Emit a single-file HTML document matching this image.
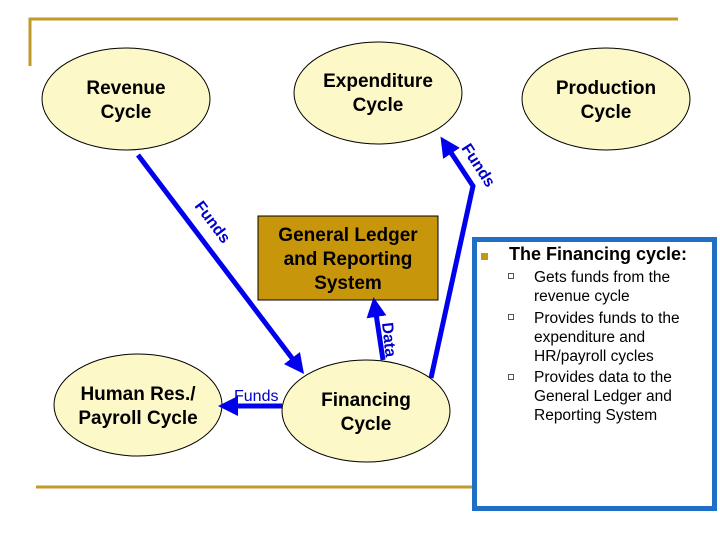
<!DOCTYPE html>
<html><head><style>
body{margin:0;width:720px;height:540px;background:#fff;overflow:hidden;font-family:"Liberation Sans",sans-serif}
</style></head><body>
<svg width="720" height="540" viewBox="0 0 720 540" xmlns="http://www.w3.org/2000/svg" font-family="Liberation Sans, sans-serif">
<defs>
<marker id="ah" markerWidth="4" markerHeight="4" refX="2" refY="2" orient="auto" markerUnits="strokeWidth">
<path d="M0,0 L4,2 L0,4 z" fill="#0000ee"/></marker>
</defs>
<path d="M30,66 V19 H678" fill="none" stroke="#c09a2a" stroke-width="3"/>
<line x1="36" y1="487" x2="472" y2="487" stroke="#c09a2a" stroke-width="3"/>
<g fill="#fdf8c8" stroke="#000" stroke-width="1">
<ellipse cx="126" cy="99" rx="84" ry="51"/>
<ellipse cx="378" cy="93" rx="84" ry="51"/>
<ellipse cx="606" cy="99" rx="84" ry="51"/>
<ellipse cx="366" cy="411" rx="84" ry="51"/>
<ellipse cx="138" cy="405" rx="84" ry="51"/>
</g>
<rect x="258" y="216" width="180" height="84" fill="#c8960a" stroke="#000"/>
<rect x="474.5" y="239.5" width="240" height="269" fill="#fff" stroke="#1f6fc6" stroke-width="5"/>
<g stroke="#0000ee" stroke-width="5" fill="none">
<line x1="138" y1="155" x2="298" y2="366" marker-end="url(#ah)"/>
<polyline points="431,378 473,186 446,145" marker-end="url(#ah)"/>
<line x1="383" y1="360" x2="375" y2="307" marker-end="url(#ah)"/>
<line x1="282" y1="406" x2="228" y2="406" marker-end="url(#ah)"/>
</g>
<g font-weight="bold" font-size="19" text-anchor="middle" fill="#000">
<text x="126" y="94">Revenue</text><text x="126" y="118">Cycle</text>
<text x="378" y="87">Expenditure</text><text x="378" y="111">Cycle</text>
<text x="606" y="94">Production</text><text x="606" y="118">Cycle</text>
<text x="366" y="406">Financing</text><text x="366" y="430">Cycle</text>
<text x="138" y="400">Human Res./</text><text x="138" y="424">Payroll Cycle</text>
<text x="348" y="241">General Ledger</text><text x="348" y="265">and Reporting</text><text x="348" y="289">System</text>
</g>
<g fill="#0000cc" font-size="16" font-weight="bold">
<text transform="translate(194,206) rotate(53)">Funds</text>
<text transform="translate(461,148) rotate(57)">Funds</text>
<text transform="translate(382,323) rotate(84)">Data</text>
<text x="234" y="401" font-weight="normal">Funds</text>
</g>
<rect x="481" y="253" width="7" height="7" fill="#c8960a"/>
<text x="509" y="260" font-size="18" font-weight="bold">The Financing cycle:</text>
<g fill="none" stroke="#555" stroke-width="1">
<rect x="508.5" y="273.5" width="5" height="5"/>
<rect x="508.5" y="314.5" width="5" height="5"/>
<rect x="508.5" y="374.5" width="5" height="5"/>
</g>
<g font-size="15.5" fill="#000">
<text x="534" y="282">Gets funds from the</text>
<text x="534" y="301">revenue cycle</text>
<text x="534" y="323">Provides funds to the</text>
<text x="534" y="342">expenditure and</text>
<text x="534" y="361">HR/payroll cycles</text>
<text x="534" y="382">Provides data to the</text>
<text x="534" y="401">General Ledger and</text>
<text x="534" y="420">Reporting System</text>
</g>
</svg>
</body></html>
